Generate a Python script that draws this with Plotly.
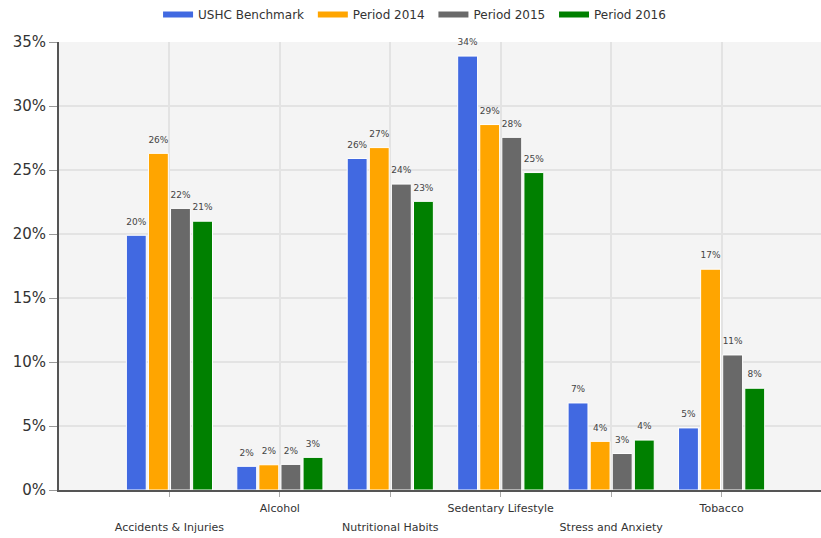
import plotly.graph_objects as go

categories = ["Accidents & Injuries", "Alcohol", "Nutritional Habits",
              "Sedentary Lifestyle", "Stress and Anxiety", "Tobacco"]
series_names = ["USHC Benchmark", "Period 2014", "Period 2015", "Period 2016"]
ushc = [19.9, 1.85, 25.9, 33.9, 6.8, 4.85]
p2014 = [26.3, 1.97, 26.75, 28.55, 3.8, 17.25]
p2015 = [22.0, 2.0, 23.9, 27.55, 2.85, 10.55]
p2016 = [21.0, 2.55, 22.55, 24.8, 3.9, 7.95]
series_values = [ushc, p2014, p2015, p2016]
colors = ["#4169E1", "#FFA500", "#696969", "#008000"]
y_ticks = [0, 5, 10, 15, 20, 25, 30, 35]

fig = go.Figure()

for name, vals, col in zip(series_names, series_values, colors):
    fig.add_trace(go.Bar(
        x=categories, y=vals, name=name, marker_color=col,
        marker_line=dict(color="white", width=1), showlegend=False,
        hoverinfo="skip"))

for i, (name, vals, col) in enumerate(zip(series_names, series_values, colors)):
    fig.add_trace(go.Scatter(
        x=categories, y=vals, mode="markers+text",
        marker=dict(size=12, opacity=0, color=col),
        text=[f"{v:.0f}%" for v in vals], textposition="top center",
        textfont=dict(family="DejaVu Sans", size=9, color="#444"),
        offsetgroup=str(i), alignmentgroup="lbl", cliponaxis=False,
        showlegend=False, hoverinfo="skip"))

for name, col in zip(series_names, colors):
    fig.add_trace(go.Scatter(
        x=[None], y=[None], mode="lines", name=name + "\u00a0",
        line=dict(color=col, width=6), xaxis="x2", yaxis="y2"))

ticktext = []
for i, c in enumerate(categories):
    inner = f"<span style='font-size:11px'>{c}</span>"
    ticktext.append(inner if i % 2 == 1 else "<br>" + inner)

fig.update_layout(
    width=821, height=538,
    margin=dict(l=59, r=0, t=40, b=48),
    paper_bgcolor="white", plot_bgcolor="#f4f4f4",
    barmode="group", bargap=0.2, bargroupgap=0.1,
    scattermode="group", scattergap=0.2,
    font=dict(family="DejaVu Sans", color="#333"),
    legend=dict(orientation="h", x=0.13, xanchor="left", y=1.062, yanchor="middle",
                font=dict(size=12, color="#333"), bgcolor="rgba(0,0,0,0)"),
    xaxis=dict(type="category", range=[-1, 5.9], categoryorder="array",
               categoryarray=categories,
               tickmode="array", tickvals=categories, ticktext=ticktext,
               tickfont=dict(size=14.6, color="#333"), tickangle=0,
               ticklabelstandoff=-3,
               showgrid=True, gridcolor="#e3e3e3", gridwidth=2,
               showline=True, linecolor="#555", linewidth=2,
               ticks="outside", ticklen=5, tickcolor="#aaa"),
    yaxis=dict(range=[0, 35], tickmode="array", tickvals=y_ticks,
               ticktext=[f"{t}%" for t in y_ticks],
               tickfont=dict(size=15, color="#333"),
               showgrid=True, gridcolor="#e3e3e3", gridwidth=2, zeroline=False,
               showline=True, linecolor="#555", linewidth=2,
               ticks="outside", ticklen=8, tickcolor="#999"),
    xaxis2=dict(visible=False, overlaying="x", range=[0, 1]),
    yaxis2=dict(visible=False, overlaying="y", range=[0, 1]),
)

fig.write_html("out.html")
